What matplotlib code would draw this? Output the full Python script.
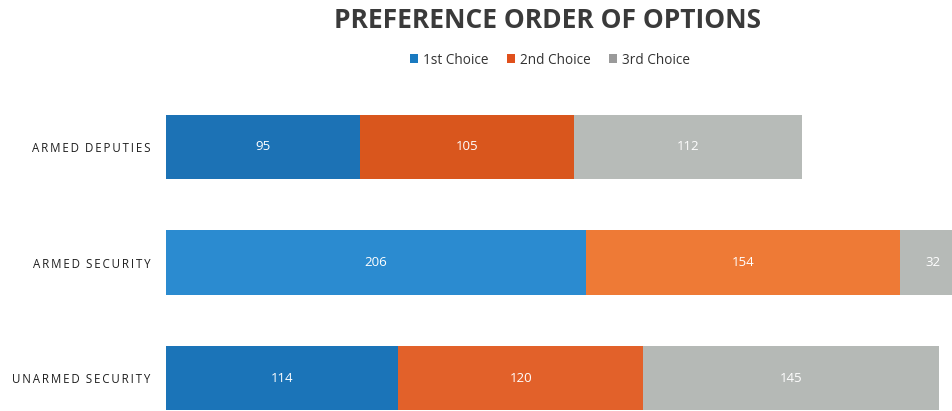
import matplotlib
matplotlib.use("Agg")
import matplotlib.pyplot as plt
from matplotlib.patches import Patch

categories = ["ARMED DEPUTIES", "ARMED SECURITY", "UNARMED SECURITY"]
series_names = ["1st Choice", "2nd Choice", "3rd Choice"]
first = [95, 206, 114]
second = [105, 154, 120]
third = [112, 32, 145]

row_colors = [
    ["#1c72b5", "#d9561d", "#b7bbb8"],
    ["#2b8bd0", "#ee7a36", "#b6bab7"],
    ["#1b74b8", "#e2612a", "#b5b9b6"],
]
legend_colors = ["#1a7ac0", "#e0501c", "#9a9a9a"]

plt.rcParams['font.family'] = ['Open Sans', 'DejaVu Sans']

W, H = 953, 411
fig = plt.figure(figsize=(W / 100, H / 100), dpi=100)
fig.patch.set_facecolor("white")

ax_left = 166 / W
ax_top_px = 90
ax = fig.add_axes([ax_left, 0, 1 - ax_left, (H - ax_top_px) / H])

y = list(range(len(categories)))
unit_px = 115.5
ylim_top = -(147 - ax_top_px) / unit_px
ylim_bot = (H - 147) / unit_px
bar_h = 64 / unit_px

left = [0] * len(categories)
for s, vals in enumerate([first, second, third]):
    cols = [row_colors[i][s] for i in range(len(categories))]
    bars = ax.barh(y, vals, left=left, height=bar_h, color=cols, edgecolor="none")
    for i, (b, v) in enumerate(zip(bars, vals)):
        ax.text(b.get_x() + b.get_width() / 2, b.get_y() + b.get_height() / 2, str(v),
                ha="center", va="center", color="white", fontsize=9.5)
    left = [l + v for l, v in zip(left, vals)]

ax.set_xlim(0, (W - 166) / 2.039)
ax.set_ylim(ylim_bot, ylim_top)
ax.set_yticks(y)
spaced = ["\u2009".join(c).replace("\u2009 \u2009", "  ") for c in categories]
ax.set_yticklabels(spaced, fontsize=8.3, color="#1e1e1e", fontweight="medium")
ax.tick_params(axis="y", length=0, pad=11)
ax.set_xticks([])
for sp in ax.spines.values():
    sp.set_visible(False)

fig.text(548 / W, 1 - 20 / H, "PREFERENCE ORDER OF OPTIONS", ha="center", va="center",
         fontsize=19, fontweight="bold", color="#3a3a3a")

handles = [Patch(facecolor=c, edgecolor="none") for c in legend_colors]
fig.legend(handles, series_names, loc="center", bbox_to_anchor=(550 / W, 1 - 60 / H),
           ncol=3, frameon=False, fontsize=9.8, handlelength=0.6, handleheight=0.6,
           handletextpad=0.4, columnspacing=1.3, labelcolor="#333333")

fig.savefig("out.png", dpi=100, facecolor="white")
